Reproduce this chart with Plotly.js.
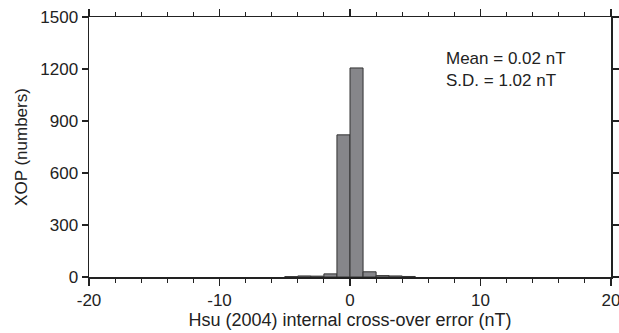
<!DOCTYPE html>
<html>
<head>
<meta charset="utf-8">
<script src="https://cdn.plot.ly/plotly-3.0.1.min.js"></script>
<style>html,body{margin:0;padding:0;background:#fff;}#chart{width:619px;height:333px;}</style>
</head>
<body>
<div id="chart"></div>
<script>
const binCenters = [-4.5, -3.5, -2.5, -1.5, -0.5, 0.5, 1.5, 2.5, 3.5, 4.5];
const counts = [2, 6, 5, 18, 820, 1206, 30, 8, 6, 3];
const xTicks = [-20, -10, 0, 10, 20];
const yTicks = [0, 300, 600, 900, 1200, 1500];
const statLines = ["Mean = 0.02 nT", "S.D. = 1.02 nT"];

const font = {family: 'Liberation Sans, Arial, sans-serif', color: '#222'};

const trace = {
  type: 'bar',
  x: binCenters,
  y: counts,
  width: 1,
  marker: {color: '#86868a', line: {color: '#333', width: 1}},
  hoverinfo: 'skip'
};

const layout = {
  width: 619, height: 333,
  margin: {l: 89, r: 8, t: 17, b: 56},
  paper_bgcolor: '#fff', plot_bgcolor: '#fff',
  showlegend: false,
  bargap: 0,
  xaxis: {
    range: [-20, 20],
    tickvals: xTicks,
    ticktext: xTicks.map(String),
    ticklabeloverflow: 'allow',
    showgrid: false, zeroline: false,
    showline: true, linecolor: '#222', linewidth: 1.5,
    mirror: 'ticks', ticks: 'outside', ticklen: 7, tickwidth: 1.5, tickcolor: '#222',
    minor: {dtick: 2, tick0: 0, ticks: 'outside', ticklen: 4, tickwidth: 1, tickcolor: '#222', showgrid: false},
    tickfont: Object.assign({size: 17}, font),
    title: {text: 'Hsu (2004) internal cross-over error (nT)', font: Object.assign({size: 18}, font), standoff: 4},
    fixedrange: true
  },
  yaxis: {
    range: [0, 1500],
    tickvals: yTicks,
    ticktext: yTicks.map(String),
    ticklabeloverflow: 'allow',
    showgrid: false, zeroline: false,
    showline: true, linecolor: '#222', linewidth: 1.5,
    mirror: 'ticks', ticks: 'outside', ticklen: 6, tickwidth: 1.5, tickcolor: '#222',
    tickfont: Object.assign({size: 17}, font),
    title: {text: 'XOP (numbers)', font: Object.assign({size: 17}, font), standoff: 8},
    fixedrange: true
  },
  annotations: statLines.map((t, i) => ({
    text: t, xref: 'paper', yref: 'paper',
    x: 0.681, y: 0.84 - i * 0.085, xanchor: 'left', yanchor: 'middle',
    showarrow: false, font: Object.assign({size: 17}, font)
  }))
};

Plotly.newPlot('chart', [trace], layout, {displayModeBar: false, staticPlot: true});
</script>
</body>
</html>
